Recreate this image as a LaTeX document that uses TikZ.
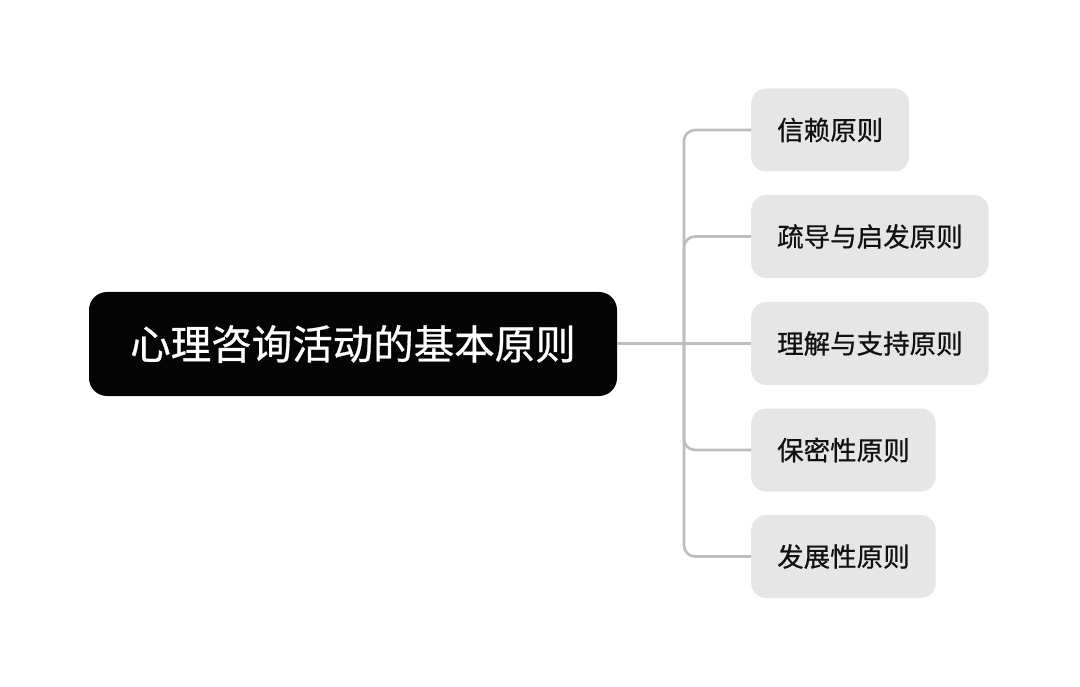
\documentclass[tikz,border=0pt]{standalone}
\usepackage{fontspec}
\setmainfont{Noto Sans CJK SC}
\newfontfamily\medfont{Noto Sans CJK SC}[FakeBold=0.7]
\usetikzlibrary{positioning}
\definecolor{ink}{HTML}{111111}
\definecolor{rootfill}{HTML}{050505}
\definecolor{leaffill}{HTML}{E6E6E6}
\definecolor{linkgray}{HTML}{BDBDBD}

\begin{document}
\begin{tikzpicture}[
  x=1pt, y=-1pt,
  rootnode/.style={fill=rootfill, rounded corners=18pt, text=white, font=\medfont\fontsize{40.5}{48}\selectfont,
    minimum width=528pt, minimum height=104pt, inner sep=0pt},
  leaf/.style={fill=leaffill, rounded corners=15pt, text=ink, font=\medfont\fontsize{26.5}{32}\selectfont,
    anchor=west, minimum height=83pt, inner xsep=26pt, inner ysep=0pt},
  link/.style={draw=linkgray, line width=2.6pt, rounded corners=11pt}
]
\useasboundingbox (0,0) rectangle (1080,687);

\node[rootnode] (root) at (353,344) {心理咨询活动的基本原则};

\node[leaf] (p1) at (751,130) {信赖原则};
\node[leaf] (p2) at (751,236.5) {疏导与启发原则};
\node[leaf] (p3) at (751,343.5) {理解与支持原则};
\node[leaf] (p4) at (751,450) {保密性原则};
\node[leaf] (p5) at (751,556.5) {发展性原则};

% trunk meets the root line here
\coordinate (hub) at (684,343.5);

\draw[link] (root.east|-p3.west) -- (p3.west);
\draw[link] (hub) |- (p1.west);
\draw[link] (hub) |- (p2.west);
\draw[link] (hub) |- (p4.west);
\draw[link] (hub) |- (p5.west);
\end{tikzpicture}
\end{document}
